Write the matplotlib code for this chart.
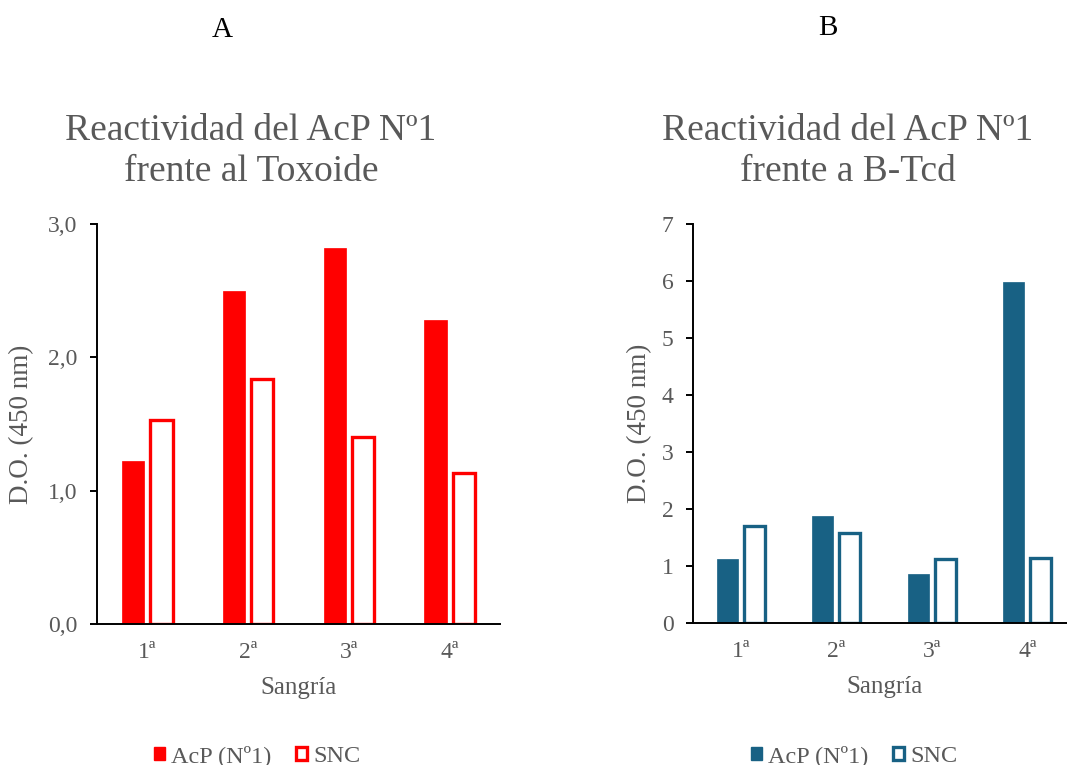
import matplotlib
matplotlib.use("Agg")
import matplotlib.pyplot as plt
import numpy as np
from matplotlib.patches import Patch
from matplotlib.ticker import FuncFormatter

plt.rcParams.update({"font.family": "Liberation Serif", "axes.spines.top": False,
                     "axes.spines.right": False})

GREY_TXT = "#595959"
RED, BLUE = "#FF0000", "#186184"

# data (D.O. 450 nm)
sangrias = ["1ª", "2ª", "3ª", "4ª"]
toxoide_acp = [1.22, 2.50, 2.82, 2.28]
toxoide_snc = [1.53, 1.835, 1.40, 1.13]
btcd_acp = [1.11, 1.88, 0.855, 5.99]
btcd_snc = [1.70, 1.57, 1.11, 1.13]

fig = plt.figure(figsize=(10.67, 7.65), dpi=100)
axA = fig.add_axes([0.0909, 0.1843, 0.3777, 0.5229])
axB = fig.add_axes([0.6495, 0.1860, 0.3580, 0.5212])

W, OFF = 0.22, 0.14


def draw(ax, acp, snc, color, ymax, ystep, fmt, ylab_x):
    x = np.arange(len(sangrias))
    ax.bar(x - OFF, acp, W, color=color, edgecolor=color, lw=0.5, zorder=3)
    ax.bar(x + OFF, snc, W, facecolor="white", edgecolor=color, lw=2.4, zorder=3)
    ax.set_xlim(-0.5, len(sangrias) - 0.5)
    ax.set_ylim(0, ymax)
    ax.set_yticks(np.arange(0, ymax + 0.001, ystep))
    ax.yaxis.set_major_formatter(FuncFormatter(fmt))
    ax.set_xticks(x)
    ax.set_xticklabels(sangrias)
    for s in ("left", "bottom"):
        ax.spines[s].set_linewidth(1.4)
        ax.spines[s].set_zorder(4)
    ax.tick_params(axis="x", length=0, pad=13, labelsize=17, labelcolor=GREY_TXT)
    ax.tick_params(axis="y", length=5, width=1.4, pad=9, labelsize=17, labelcolor=GREY_TXT)
    ax.set_ylabel("D.O. (450 nm)", fontsize=19.5, color=GREY_TXT)
    ax.yaxis.set_label_coords(ylab_x, 0.5)
    ax.set_xlabel("Sangría", fontsize=18, color=GREY_TXT)
    ax.xaxis.set_label_coords(0.5, -0.16)
    ax.xaxis.label.set_va("center")


draw(axA, toxoide_acp, toxoide_snc, RED, 3.0, 1.0, lambda v, p: f"{v:.1f}".replace(".", ","), -0.155)
draw(axB, btcd_acp, btcd_snc, BLUE, 7, 1, lambda v, p: f"{v:.0f}", -0.107)

# panel letters + titles (centred on the chart block, not the axes)
fig.text(222 / 1067, 1 - 30 / 765, "A", fontsize=21, ha="center", va="center")
fig.text(828 / 1067, 1 - 28 / 765, "B", fontsize=21, ha="center", va="center")
fig.text(251 / 1067, 1 - 151 / 765, "Reactividad del AcP Nº1\nfrente al Toxoide",
         fontsize=27, color=GREY_TXT, ha="center", va="center", linespacing=1.24)
fig.text(848 / 1067, 1 - 151 / 765, "Reactividad del AcP Nº1\nfrente a B-Tcd",
         fontsize=27, color=GREY_TXT, ha="center", va="center", linespacing=1.24)

for color, cx in ((RED, 257), (BLUE, 854)):
    handles = [Patch(facecolor=color, edgecolor=color, label="AcP (Nº1)"),
               Patch(facecolor="white", edgecolor=color, lw=2.4, label="SNC")]
    fig.legend(handles=handles, loc="center", bbox_to_anchor=(cx / 1067, 1 - 756 / 765),
               ncol=2, frameon=False, fontsize=17.5, handlelength=0.47, handleheight=0.47,
               handletextpad=0.25, columnspacing=1.0, labelcolor=GREY_TXT)

fig.savefig("out.png", dpi=100)
